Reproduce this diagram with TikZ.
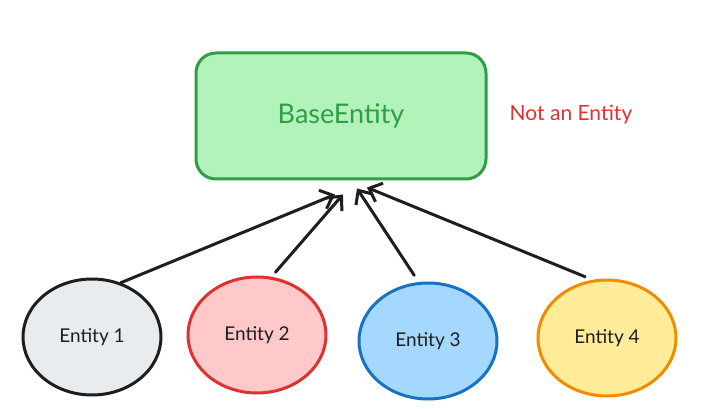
\documentclass[tikz,border=0pt]{standalone}
\usepackage{fontspec}
\setmainfont{Lato}
\usetikzlibrary{shapes.geometric,arrows.meta}
\definecolor{gfill}{HTML}{B2F2BB}\definecolor{gdraw}{HTML}{2F9E44}
\definecolor{rfill}{HTML}{FFC9C9}\definecolor{rdraw}{HTML}{E03131}
\definecolor{bfill}{HTML}{A5D8FF}\definecolor{bdraw}{HTML}{1971C2}
\definecolor{yfill}{HTML}{FFEC99}\definecolor{ydraw}{HTML}{F08C00}
\definecolor{kfill}{HTML}{E9ECEF}\definecolor{kdraw}{HTML}{1E1E1E}
\tikzset{
  ent/.style={ellipse, line width=3pt, minimum width=138pt, minimum height=116pt, inner sep=0pt, font=\fontsize{19}{22}\selectfont, text=kdraw},
  arr/.style={line width=3pt, draw=kdraw, line cap=round, -{Straight Barb[length=11pt,width=20pt,line width=3pt]}},
}
\begin{document}
\begin{tikzpicture}[x=1pt,y=-1pt]
\useasboundingbox[fill=white] (0,0) rectangle (716,409);
\node[draw=gdraw, fill=gfill, line width=3pt, rounded corners=20pt, minimum width=290pt, minimum height=126pt, text=gdraw, font=\fontsize{27}{32}\selectfont] (base) at (341,116) {BaseEntity};
\node[text=rdraw, font=\fontsize{21}{25}\selectfont] (note) at (571,115) {Not an Entity};
\node[ent, draw=kdraw, fill=kfill] (e1) at (92,337) {Entity 1};
\node[ent, draw=rdraw, fill=rfill] (e2) at (257,335) {Entity 2};
\node[ent, draw=bdraw, fill=bfill] (e3) at (428,341) {Entity 3};
\node[ent, draw=ydraw, fill=yfill] (e4) at (607,338) {Entity 4};
\draw[arr] (e1.62) -- ([shift={(-6,14)}]base.south);
\draw[arr, shorten <=6pt] (e2.76) -- ([shift={(2,14)}]base.south);
\draw[arr, shorten <=8pt] (e3.99) -- ([shift={(16,8)}]base.south);
\draw[arr, shorten <=8pt] (e4.104) -- ([shift={(26,7)}]base.south);
\end{tikzpicture}
\end{document}
